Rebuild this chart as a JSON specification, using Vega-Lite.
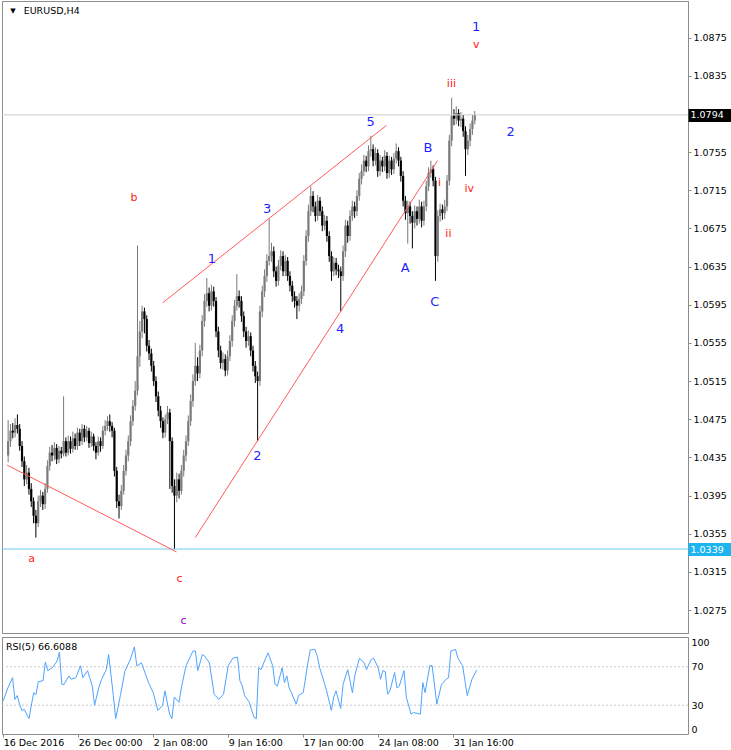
{
"$schema": "https://vega.github.io/schema/vega-lite/v6.json",
"padding": 0,
"background": "white",
"spacing": 2,
"config": {"font": "DejaVu Sans", "view": {"stroke": "#8c8c8c"}, "axis": {"labelFont": "DejaVu Sans", "labelFontSize": 9.5, "labelColor": "#000000"}},
"datasets": {
"candles": [
{"i":0,"o":1.0437,"h":1.0474,"l":1.0430,"c":1.0452},
{"i":1,"o":1.0452,"h":1.0470,"l":1.0446,"c":1.0463},
{"i":2,"o":1.0463,"h":1.0471,"l":1.0455,"c":1.0461},
{"i":3,"o":1.0461,"h":1.0476,"l":1.0456,"c":1.0469},
{"i":4,"o":1.0469,"h":1.0480,"l":1.0460,"c":1.0465},
{"i":5,"o":1.0465,"h":1.0470,"l":1.0442,"c":1.0447},
{"i":6,"o":1.0447,"h":1.0452,"l":1.0425,"c":1.0431},
{"i":7,"o":1.0431,"h":1.0436,"l":1.0405,"c":1.0412},
{"i":8,"o":1.0412,"h":1.0427,"l":1.0407,"c":1.0419},
{"i":9,"o":1.0419,"h":1.0424,"l":1.0396,"c":1.0402},
{"i":10,"o":1.0402,"h":1.0408,"l":1.0383,"c":1.0389},
{"i":11,"o":1.0389,"h":1.0393,"l":1.0366,"c":1.0374},
{"i":12,"o":1.0374,"h":1.0380,"l":1.0351,"c":1.0366},
{"i":13,"o":1.0366,"h":1.0395,"l":1.0362,"c":1.0389},
{"i":14,"o":1.0389,"h":1.0401,"l":1.0383,"c":1.0395},
{"i":15,"o":1.0395,"h":1.0399,"l":1.0380,"c":1.0386},
{"i":16,"o":1.0386,"h":1.0408,"l":1.0381,"c":1.0402},
{"i":17,"o":1.0402,"h":1.0432,"l":1.0398,"c":1.0426},
{"i":18,"o":1.0426,"h":1.0446,"l":1.0421,"c":1.0440},
{"i":19,"o":1.0440,"h":1.0448,"l":1.0431,"c":1.0437},
{"i":20,"o":1.0437,"h":1.0451,"l":1.0432,"c":1.0445},
{"i":21,"o":1.0445,"h":1.0449,"l":1.0428,"c":1.0433},
{"i":22,"o":1.0433,"h":1.0447,"l":1.0429,"c":1.0442},
{"i":23,"o":1.0442,"h":1.0446,"l":1.0434,"c":1.0439},
{"i":24,"o":1.0439,"h":1.0499,"l":1.0436,"c":1.0452},
{"i":25,"o":1.0452,"h":1.0456,"l":1.0436,"c":1.0440},
{"i":26,"o":1.0440,"h":1.0458,"l":1.0437,"c":1.0452},
{"i":27,"o":1.0452,"h":1.0457,"l":1.0439,"c":1.0444},
{"i":28,"o":1.0444,"h":1.0462,"l":1.0440,"c":1.0455},
{"i":29,"o":1.0455,"h":1.0460,"l":1.0443,"c":1.0447},
{"i":30,"o":1.0447,"h":1.0466,"l":1.0443,"c":1.0461},
{"i":31,"o":1.0461,"h":1.0465,"l":1.0447,"c":1.0452},
{"i":32,"o":1.0452,"h":1.0470,"l":1.0448,"c":1.0465},
{"i":33,"o":1.0465,"h":1.0469,"l":1.0451,"c":1.0456},
{"i":34,"o":1.0456,"h":1.0468,"l":1.0452,"c":1.0463},
{"i":35,"o":1.0463,"h":1.0466,"l":1.0445,"c":1.0450},
{"i":36,"o":1.0450,"h":1.0462,"l":1.0446,"c":1.0457},
{"i":37,"o":1.0457,"h":1.0460,"l":1.0442,"c":1.0447},
{"i":38,"o":1.0447,"h":1.0451,"l":1.0433,"c":1.0440},
{"i":39,"o":1.0440,"h":1.0457,"l":1.0437,"c":1.0452},
{"i":40,"o":1.0452,"h":1.0456,"l":1.0441,"c":1.0447},
{"i":41,"o":1.0447,"h":1.0468,"l":1.0444,"c":1.0463},
{"i":42,"o":1.0463,"h":1.0474,"l":1.0458,"c":1.0468},
{"i":43,"o":1.0468,"h":1.0478,"l":1.0463,"c":1.0473},
{"i":44,"o":1.0473,"h":1.0480,"l":1.0462,"c":1.0468},
{"i":45,"o":1.0468,"h":1.0472,"l":1.0456,"c":1.0463},
{"i":46,"o":1.0463,"h":1.0466,"l":1.0415,"c":1.0421},
{"i":47,"o":1.0421,"h":1.0425,"l":1.0382,"c":1.0389},
{"i":48,"o":1.0389,"h":1.0396,"l":1.0371,"c":1.0384},
{"i":49,"o":1.0384,"h":1.0406,"l":1.0380,"c":1.0400},
{"i":50,"o":1.0400,"h":1.0427,"l":1.0396,"c":1.0421},
{"i":51,"o":1.0421,"h":1.0443,"l":1.0416,"c":1.0437},
{"i":52,"o":1.0437,"h":1.0458,"l":1.0431,"c":1.0452},
{"i":53,"o":1.0452,"h":1.0479,"l":1.0447,"c":1.0473},
{"i":54,"o":1.0473,"h":1.0495,"l":1.0468,"c":1.0489},
{"i":55,"o":1.0489,"h":1.0515,"l":1.0484,"c":1.0505},
{"i":56,"o":1.0505,"h":1.0657,"l":1.0500,"c":1.0541},
{"i":57,"o":1.0541,"h":1.0578,"l":1.0530,"c":1.0567},
{"i":58,"o":1.0567,"h":1.0594,"l":1.0560,"c":1.0588},
{"i":59,"o":1.0588,"h":1.0592,"l":1.0565,"c":1.0580},
{"i":60,"o":1.0580,"h":1.0584,"l":1.0546,"c":1.0552},
{"i":61,"o":1.0552,"h":1.0558,"l":1.0537,"c":1.0544},
{"i":62,"o":1.0544,"h":1.0549,"l":1.0525,"c":1.0531},
{"i":63,"o":1.0531,"h":1.0536,"l":1.0510,"c":1.0515},
{"i":64,"o":1.0515,"h":1.0520,"l":1.0493,"c":1.0499},
{"i":65,"o":1.0499,"h":1.0504,"l":1.0478,"c":1.0484},
{"i":66,"o":1.0484,"h":1.0489,"l":1.0466,"c":1.0473},
{"i":67,"o":1.0473,"h":1.0477,"l":1.0455,"c":1.0461},
{"i":68,"o":1.0461,"h":1.0480,"l":1.0456,"c":1.0475},
{"i":69,"o":1.0475,"h":1.0489,"l":1.0470,"c":1.0482},
{"i":70,"o":1.0482,"h":1.0486,"l":1.0402,"c":1.0452},
{"i":71,"o":1.0452,"h":1.0456,"l":1.0398,"c":1.0405},
{"i":72,"o":1.0405,"h":1.0412,"l":1.0339,"c":1.0395},
{"i":73,"o":1.0395,"h":1.0419,"l":1.0388,"c":1.0412},
{"i":74,"o":1.0412,"h":1.0418,"l":1.0392,"c":1.0400},
{"i":75,"o":1.0400,"h":1.0427,"l":1.0396,"c":1.0421},
{"i":76,"o":1.0421,"h":1.0443,"l":1.0415,"c":1.0437},
{"i":77,"o":1.0437,"h":1.0458,"l":1.0431,"c":1.0452},
{"i":78,"o":1.0452,"h":1.0479,"l":1.0447,"c":1.0473},
{"i":79,"o":1.0473,"h":1.0501,"l":1.0468,"c":1.0494},
{"i":80,"o":1.0494,"h":1.0522,"l":1.0488,"c":1.0515},
{"i":81,"o":1.0515,"h":1.0555,"l":1.0510,"c":1.0531},
{"i":82,"o":1.0531,"h":1.0540,"l":1.0515,"c":1.0523},
{"i":83,"o":1.0523,"h":1.0553,"l":1.0518,"c":1.0547},
{"i":84,"o":1.0547,"h":1.0584,"l":1.0541,"c":1.0578},
{"i":85,"o":1.0578,"h":1.0606,"l":1.0572,"c":1.0599},
{"i":86,"o":1.0599,"h":1.0623,"l":1.0593,"c":1.0607},
{"i":87,"o":1.0607,"h":1.0613,"l":1.0588,"c":1.0594},
{"i":88,"o":1.0594,"h":1.0616,"l":1.0589,"c":1.0609},
{"i":89,"o":1.0609,"h":1.0614,"l":1.0593,"c":1.0599},
{"i":90,"o":1.0599,"h":1.0603,"l":1.0561,"c":1.0567},
{"i":91,"o":1.0567,"h":1.0572,"l":1.0540,"c":1.0547},
{"i":92,"o":1.0547,"h":1.0552,"l":1.0528,"c":1.0534},
{"i":93,"o":1.0534,"h":1.0545,"l":1.0527,"c":1.0538},
{"i":94,"o":1.0538,"h":1.0543,"l":1.0520,"c":1.0526},
{"i":95,"o":1.0526,"h":1.0547,"l":1.0521,"c":1.0541},
{"i":96,"o":1.0541,"h":1.0563,"l":1.0536,"c":1.0557},
{"i":97,"o":1.0557,"h":1.0584,"l":1.0551,"c":1.0578},
{"i":98,"o":1.0578,"h":1.0600,"l":1.0572,"c":1.0594},
{"i":99,"o":1.0594,"h":1.0627,"l":1.0589,"c":1.0604},
{"i":100,"o":1.0604,"h":1.0610,"l":1.0592,"c":1.0599},
{"i":101,"o":1.0599,"h":1.0604,"l":1.0577,"c":1.0583},
{"i":102,"o":1.0583,"h":1.0588,"l":1.0561,"c":1.0567},
{"i":103,"o":1.0567,"h":1.0572,"l":1.0550,"c":1.0557},
{"i":104,"o":1.0557,"h":1.0568,"l":1.0552,"c":1.0562},
{"i":105,"o":1.0562,"h":1.0566,"l":1.0541,"c":1.0547},
{"i":106,"o":1.0547,"h":1.0552,"l":1.0525,"c":1.0531},
{"i":107,"o":1.0531,"h":1.0536,"l":1.0513,"c":1.0520},
{"i":108,"o":1.0520,"h":1.0525,"l":1.0452,"c":1.0515},
{"i":109,"o":1.0515,"h":1.0594,"l":1.0510,"c":1.0588},
{"i":110,"o":1.0588,"h":1.0615,"l":1.0582,"c":1.0609},
{"i":111,"o":1.0609,"h":1.0632,"l":1.0603,"c":1.0625},
{"i":112,"o":1.0625,"h":1.0648,"l":1.0619,"c":1.0641},
{"i":113,"o":1.0641,"h":1.0685,"l":1.0636,"c":1.0646},
{"i":114,"o":1.0646,"h":1.0660,"l":1.0640,"c":1.0651},
{"i":115,"o":1.0651,"h":1.0656,"l":1.0624,"c":1.0630},
{"i":116,"o":1.0630,"h":1.0635,"l":1.0614,"c":1.0620},
{"i":117,"o":1.0620,"h":1.0642,"l":1.0615,"c":1.0636},
{"i":118,"o":1.0636,"h":1.0652,"l":1.0631,"c":1.0646},
{"i":119,"o":1.0646,"h":1.0651,"l":1.0625,"c":1.0630},
{"i":120,"o":1.0630,"h":1.0647,"l":1.0625,"c":1.0641},
{"i":121,"o":1.0641,"h":1.0645,"l":1.0620,"c":1.0625},
{"i":122,"o":1.0625,"h":1.0630,"l":1.0609,"c":1.0615},
{"i":123,"o":1.0615,"h":1.0620,"l":1.0598,"c":1.0604},
{"i":124,"o":1.0604,"h":1.0609,"l":1.0592,"c":1.0599},
{"i":125,"o":1.0599,"h":1.0604,"l":1.0580,"c":1.0594},
{"i":126,"o":1.0594,"h":1.0607,"l":1.0588,"c":1.0601},
{"i":127,"o":1.0601,"h":1.0615,"l":1.0596,"c":1.0609},
{"i":128,"o":1.0609,"h":1.0647,"l":1.0604,"c":1.0641},
{"i":129,"o":1.0641,"h":1.0673,"l":1.0636,"c":1.0667},
{"i":130,"o":1.0667,"h":1.0700,"l":1.0661,"c":1.0693},
{"i":131,"o":1.0693,"h":1.0719,"l":1.0688,"c":1.0709},
{"i":132,"o":1.0709,"h":1.0714,"l":1.0692,"c":1.0698},
{"i":133,"o":1.0698,"h":1.0703,"l":1.0682,"c":1.0688},
{"i":134,"o":1.0688,"h":1.0710,"l":1.0683,"c":1.0704},
{"i":135,"o":1.0704,"h":1.0708,"l":1.0688,"c":1.0693},
{"i":136,"o":1.0693,"h":1.0698,"l":1.0672,"c":1.0678},
{"i":137,"o":1.0678,"h":1.0689,"l":1.0673,"c":1.0683},
{"i":138,"o":1.0683,"h":1.0688,"l":1.0661,"c":1.0667},
{"i":139,"o":1.0667,"h":1.0672,"l":1.0640,"c":1.0646},
{"i":140,"o":1.0646,"h":1.0651,"l":1.0620,"c":1.0630},
{"i":141,"o":1.0630,"h":1.0645,"l":1.0625,"c":1.0639},
{"i":142,"o":1.0639,"h":1.0644,"l":1.0626,"c":1.0632},
{"i":143,"o":1.0632,"h":1.0637,"l":1.0623,"c":1.0630},
{"i":144,"o":1.0630,"h":1.0635,"l":1.0588,"c":1.0625},
{"i":145,"o":1.0625,"h":1.0657,"l":1.0620,"c":1.0651},
{"i":146,"o":1.0651,"h":1.0684,"l":1.0645,"c":1.0678},
{"i":147,"o":1.0678,"h":1.0683,"l":1.0660,"c":1.0667},
{"i":148,"o":1.0667,"h":1.0694,"l":1.0662,"c":1.0688},
{"i":149,"o":1.0688,"h":1.0704,"l":1.0683,"c":1.0698},
{"i":150,"o":1.0698,"h":1.0703,"l":1.0686,"c":1.0693},
{"i":151,"o":1.0693,"h":1.0715,"l":1.0688,"c":1.0709},
{"i":152,"o":1.0709,"h":1.0733,"l":1.0704,"c":1.0727},
{"i":153,"o":1.0727,"h":1.0742,"l":1.0721,"c":1.0735},
{"i":154,"o":1.0735,"h":1.0752,"l":1.0730,"c":1.0746},
{"i":155,"o":1.0746,"h":1.0751,"l":1.0734,"c":1.0740},
{"i":156,"o":1.0740,"h":1.0762,"l":1.0735,"c":1.0756},
{"i":157,"o":1.0756,"h":1.0772,"l":1.0750,"c":1.0758},
{"i":158,"o":1.0758,"h":1.0763,"l":1.0740,"c":1.0746},
{"i":159,"o":1.0746,"h":1.0760,"l":1.0741,"c":1.0754},
{"i":160,"o":1.0754,"h":1.0758,"l":1.0729,"c":1.0735},
{"i":161,"o":1.0735,"h":1.0752,"l":1.0730,"c":1.0746},
{"i":162,"o":1.0746,"h":1.0750,"l":1.0734,"c":1.0740},
{"i":163,"o":1.0740,"h":1.0757,"l":1.0735,"c":1.0751},
{"i":164,"o":1.0751,"h":1.0755,"l":1.0727,"c":1.0733},
{"i":165,"o":1.0733,"h":1.0751,"l":1.0728,"c":1.0746},
{"i":166,"o":1.0746,"h":1.0750,"l":1.0731,"c":1.0737},
{"i":167,"o":1.0737,"h":1.0754,"l":1.0732,"c":1.0748},
{"i":168,"o":1.0748,"h":1.0764,"l":1.0743,"c":1.0756},
{"i":169,"o":1.0756,"h":1.0760,"l":1.0740,"c":1.0746},
{"i":170,"o":1.0746,"h":1.0750,"l":1.0724,"c":1.0730},
{"i":171,"o":1.0730,"h":1.0735,"l":1.0698,"c":1.0704},
{"i":172,"o":1.0704,"h":1.0709,"l":1.0684,"c":1.0691},
{"i":173,"o":1.0691,"h":1.0704,"l":1.0659,"c":1.0698},
{"i":174,"o":1.0698,"h":1.0703,"l":1.0680,"c":1.0688},
{"i":175,"o":1.0688,"h":1.0693,"l":1.0654,"c":1.0681},
{"i":176,"o":1.0681,"h":1.0699,"l":1.0675,"c":1.0693},
{"i":177,"o":1.0693,"h":1.0698,"l":1.0678,"c":1.0685},
{"i":178,"o":1.0685,"h":1.0705,"l":1.0680,"c":1.0698},
{"i":179,"o":1.0698,"h":1.0703,"l":1.0676,"c":1.0683},
{"i":180,"o":1.0683,"h":1.0704,"l":1.0678,"c":1.0698},
{"i":181,"o":1.0698,"h":1.0725,"l":1.0693,"c":1.0719},
{"i":182,"o":1.0719,"h":1.0739,"l":1.0714,"c":1.0733},
{"i":183,"o":1.0733,"h":1.0746,"l":1.0728,"c":1.0737},
{"i":184,"o":1.0737,"h":1.0741,"l":1.0719,"c":1.0725},
{"i":185,"o":1.0725,"h":1.0729,"l":1.0620,"c":1.0646},
{"i":186,"o":1.0646,"h":1.0694,"l":1.0640,"c":1.0688},
{"i":187,"o":1.0688,"h":1.0701,"l":1.0682,"c":1.0695},
{"i":188,"o":1.0695,"h":1.0700,"l":1.0684,"c":1.0691},
{"i":189,"o":1.0691,"h":1.0705,"l":1.0685,"c":1.0698},
{"i":190,"o":1.0698,"h":1.0731,"l":1.0693,"c":1.0725},
{"i":191,"o":1.0725,"h":1.0773,"l":1.0720,"c":1.0767},
{"i":192,"o":1.0767,"h":1.0812,"l":1.0761,"c":1.0793},
{"i":193,"o":1.0793,"h":1.0800,"l":1.0783,"c":1.0790},
{"i":194,"o":1.0790,"h":1.0803,"l":1.0784,"c":1.0796},
{"i":195,"o":1.0796,"h":1.0800,"l":1.0782,"c":1.0788},
{"i":196,"o":1.0788,"h":1.0797,"l":1.0781,"c":1.0790},
{"i":197,"o":1.0790,"h":1.0794,"l":1.0771,"c":1.0777},
{"i":198,"o":1.0777,"h":1.0782,"l":1.0730,"c":1.0758},
{"i":199,"o":1.0758,"h":1.0773,"l":1.0752,"c":1.0767},
{"i":200,"o":1.0767,"h":1.0785,"l":1.0761,"c":1.0779},
{"i":201,"o":1.0779,"h":1.0794,"l":1.0773,"c":1.0788},
{"i":202,"o":1.0788,"h":1.0798,"l":1.0784,"c":1.0794}
],
"rsi": [
{"i":0,"r":34.5},{"i":2,"r":48},{"i":4,"r":58.6},{"i":5,"r":36},{"i":6,"r":40},{"i":7,"r":31},{"i":8,"r":24.5},{"i":9,"r":25.5},{"i":11,"r":16},{"i":13,"r":43},{"i":14,"r":41},{"i":15,"r":54.5},{"i":17,"r":55.5},{"i":18,"r":75},{"i":19,"r":66},{"i":21,"r":69},{"i":23,"r":76},{"i":24,"r":85},{"i":25,"r":51.7},{"i":26,"r":51.7},{"i":28,"r":60.5},{"i":29,"r":57},{"i":31,"r":58.6},{"i":33,"r":71},{"i":34,"r":58.6},{"i":36,"r":66},{"i":38,"r":50},{"i":39,"r":30},{"i":41,"r":50},{"i":42,"r":57},{"i":44,"r":67},{"i":45,"r":82.7},{"i":47,"r":40},{"i":48,"r":16},{"i":50,"r":40},{"i":52,"r":66},{"i":54,"r":76},{"i":56,"r":90.7},{"i":57,"r":71},{"i":59,"r":74},{"i":62,"r":53.5},{"i":64,"r":43},{"i":66,"r":24.5},{"i":68,"r":29.7},{"i":69,"r":45},{"i":71,"r":20.7},{"i":72,"r":16},{"i":73,"r":38.4},{"i":75,"r":33},{"i":76,"r":48},{"i":78,"r":71},{"i":81,"r":86.5},{"i":82,"r":86.5},{"i":83,"r":66},{"i":85,"r":82.7},{"i":86,"r":81},{"i":88,"r":74},{"i":90,"r":41.4},{"i":92,"r":36},{"i":94,"r":41.4},{"i":96,"r":71},{"i":98,"r":79},{"i":100,"r":80},{"i":101,"r":55.5},{"i":102,"r":50},{"i":103,"r":40},{"i":105,"r":33},{"i":106,"r":25},{"i":107,"r":17.3},{"i":108,"r":16},{"i":109,"r":69},{"i":110,"r":67},{"i":112,"r":79},{"i":113,"r":84.5},{"i":115,"r":71},{"i":116,"r":51.7},{"i":117,"r":50},{"i":119,"r":69},{"i":120,"r":53.5},{"i":121,"r":60.5},{"i":122,"r":48},{"i":123,"r":43},{"i":125,"r":31},{"i":126,"r":40},{"i":128,"r":43},{"i":130,"r":74},{"i":131,"r":87.5},{"i":133,"r":88},{"i":134,"r":81},{"i":135,"r":69},{"i":137,"r":53.5},{"i":138,"r":45},{"i":140,"r":24.5},{"i":141,"r":38.4},{"i":142,"r":45},{"i":144,"r":26.6},{"i":145,"r":51.7},{"i":147,"r":67},{"i":149,"r":43},{"i":150,"r":60.5},{"i":152,"r":79},{"i":154,"r":74},{"i":155,"r":67},{"i":157,"r":77.5},{"i":158,"r":79},{"i":160,"r":69},{"i":161,"r":57},{"i":162,"r":66},{"i":163,"r":65},{"i":164,"r":41.4},{"i":165,"r":45},{"i":167,"r":64},{"i":168,"r":48},{"i":169,"r":50},{"i":171,"r":66},{"i":172,"r":38.4},{"i":174,"r":20.7},{"i":175,"r":22.4},{"i":178,"r":20.7},{"i":179,"r":53.5},{"i":180,"r":43},{"i":182,"r":71},{"i":183,"r":71.3},{"i":185,"r":31},{"i":187,"r":51.7},{"i":189,"r":57},{"i":190,"r":58.6},{"i":191,"r":86.5},{"i":193,"r":88},{"i":194,"r":79},{"i":196,"r":71},{"i":198,"r":40},{"i":200,"r":57},{"i":202,"r":66.6}
],
"levels": [{"level":1.0794,"kind":"bid"},{"level":1.0339,"kind":"low"}],
"trend": [
{"seg":"ac","i":-0.5,"p":1.0427},{"seg":"ac","i":72.9,"p":1.0336},
{"seg":"upper","i":66.9,"p":1.0597},{"seg":"upper","i":163.8,"p":1.0783},
{"seg":"lower","i":81,"p":1.0351},{"seg":"lower","i":185.9,"p":1.0746}
],
"labels": [
{"t":"1","i":88.2,"p":1.0643,"deg":"major"},
{"t":"3","i":112.1,"p":1.0695,"deg":"major"},
{"t":"5","i":156.9,"p":1.0786,"deg":"major"},
{"t":"2","i":107.9,"p":1.0437,"deg":"major"},
{"t":"4","i":143.7,"p":1.0570,"deg":"major"},
{"t":"A","i":171.9,"p":1.0634,"deg":"major"},
{"t":"B","i":181.7,"p":1.0759,"deg":"major"},
{"t":"C","i":184.7,"p":1.0598,"deg":"major"},
{"t":"1","i":202.6,"p":1.0886,"deg":"major"},
{"t":"2","i":217.5,"p":1.0776,"deg":"major"},
{"t":"b","i":54.5,"p":1.0707,"deg":"minor"},
{"t":"a","i":10.2,"p":1.0329,"deg":"minor"},
{"t":"c","i":74.2,"p":1.0308,"deg":"minor"},
{"t":"iii","i":191.9,"p":1.0826,"deg":"minor"},
{"t":"i","i":186.8,"p":1.0723,"deg":"minor"},
{"t":"ii","i":190.6,"p":1.0669,"deg":"minor"},
{"t":"iv","i":199.6,"p":1.0716,"deg":"minor"},
{"t":"v","i":202.6,"p":1.0867,"deg":"minor"},
{"t":"c","i":75.9,"p":1.0264,"deg":"alt"}
],
"caption": [{"t":"EURUSD,H4","i":6.7,"p":1.0903}],
"marker": [{"t":"▼","i":2.1,"p":1.0903}],
"rsicap": [{"t":"RSI(5) 66.6088","i":1.2,"r":90.7}],
"rsilevels": [{"lv":70},{"lv":30}]
},
"vconcat": [
{
"width": 686, "height": 632,
"resolve": {"axis": {"y": "independent"}},
"layer": [
{"data": {"name": "candles"}, "mark": {"type": "rule", "strokeWidth": 1},
 "encoding": {
  "x": {"field": "i", "type": "quantitative", "scale": {"domain": [-0.5, 292.16], "nice": false, "zero": false}, "axis": null},
  "y": {"field": "l", "type": "quantitative", "scale": {"domain": [1.0251, 1.09133], "nice": false, "zero": false},
        "axis": {"orient": "right", "title": null, "grid": false, "values": [1.0275,1.0315,1.0355,1.0395,1.0435,1.0475,1.0515,1.0555,1.0595,1.0635,1.0675,1.0715,1.0755,1.0835,1.0875], "format": ".4f", "tickSize": 3, "tickColor": "#8c8c8c", "domainColor": "#8c8c8c", "labelPadding": 2, "labelFlush": false, "labelOverlap": false}},
  "y2": {"field": "h"},
  "color": {"condition": {"test": "datum.c >= datum.o", "value": "#7a7a7a"}, "value": "#000000"}
 }},
{"data": {"name": "candles"}, "mark": {"type": "bar", "size": 2.2},
 "encoding": {
  "x": {"field": "i", "type": "quantitative", "scale": {"domain": [-0.5, 292.16], "nice": false, "zero": false}, "axis": null},
  "y": {"field": "o", "type": "quantitative", "axis": null},
  "y2": {"field": "c"},
  "color": {"condition": {"test": "datum.c >= datum.o", "value": "#7a7a7a"}, "value": "#000000"}
 }},
{"data": {"name": "levels"}, "mark": {"type": "rule", "strokeWidth": 1},
 "encoding": {
  "y": {"field": "level", "type": "quantitative",
        "axis": {"orient": "right", "title": null, "grid": false, "domain": false, "values": [1.0794, 1.0339], "format": ".4f", "tickSize": 43, "tickWidth": 13, "tickCap": "butt",
                 "tickColor": {"condition": {"test": "datum.value > 1.05", "value": "#000000"}, "value": "#1cb5f0"},
                 "labelColor": "#ffffff", "labelPadding": -41, "labelFlush": false, "labelOverlap": false}},
  "color": {"field": "kind", "type": "nominal", "scale": {"domain": ["bid", "low"], "range": ["#cfcfcf", "#6cc9f0"]}, "legend": null}
 }},
{"data": {"name": "trend"}, "mark": {"type": "line", "strokeWidth": 1, "color": "#ff5a5a"},
 "encoding": {
  "x": {"field": "i", "type": "quantitative", "axis": null},
  "y": {"field": "p", "type": "quantitative", "axis": null},
  "detail": {"field": "seg"}
 }},
{"data": {"name": "labels"}, "transform": [{"filter": "datum.deg == 'major'"}],
 "mark": {"type": "text", "fontSize": 13, "color": "#1f1fff", "align": "center", "baseline": "middle"},
 "encoding": {
  "x": {"field": "i", "type": "quantitative", "axis": null},
  "y": {"field": "p", "type": "quantitative", "axis": null},
  "text": {"field": "t"}
 }},
{"data": {"name": "labels"}, "transform": [{"filter": "datum.deg == 'minor'"}],
 "mark": {"type": "text", "fontSize": 11, "color": "#ff2020", "align": "center", "baseline": "middle"},
 "encoding": {
  "x": {"field": "i", "type": "quantitative", "axis": null},
  "y": {"field": "p", "type": "quantitative", "axis": null},
  "text": {"field": "t"}
 }},
{"data": {"name": "labels"}, "transform": [{"filter": "datum.deg == 'alt'"}],
 "mark": {"type": "text", "fontSize": 11, "color": "#9a00cc", "align": "center", "baseline": "middle"},
 "encoding": {
  "x": {"field": "i", "type": "quantitative", "axis": null},
  "y": {"field": "p", "type": "quantitative", "axis": null},
  "text": {"field": "t"}
 }},
{"data": {"name": "caption"},
 "mark": {"type": "text", "fontSize": 9.5, "color": "#000000", "align": "left", "baseline": "middle"},
 "encoding": {
  "x": {"field": "i", "type": "quantitative", "axis": null},
  "y": {"field": "p", "type": "quantitative", "axis": null},
  "text": {"field": "t"}
 }},
{"data": {"name": "marker"},
 "mark": {"type": "text", "fontSize": 7, "color": "#000000", "align": "center", "baseline": "middle"},
 "encoding": {
  "x": {"field": "i", "type": "quantitative", "axis": null},
  "y": {"field": "p", "type": "quantitative", "axis": null},
  "text": {"field": "t"}
 }}
]
},
{
"width": 686, "height": 97,
"resolve": {"axis": {"x": "independent", "y": "independent"}},
"layer": [
{"data": {"name": "rsilevels"}, "mark": {"type": "rule", "strokeWidth": 1, "strokeDash": [2, 2], "color": "#c8c8c8"},
 "encoding": {
  "y": {"field": "lv", "type": "quantitative", "scale": {"domain": [0, 101], "nice": false, "zero": false}, "axis": null}
 }},
{"data": {"name": "rsi"}, "mark": {"type": "line", "strokeWidth": 1, "color": "#4da3ff"},
 "encoding": {
  "x": {"field": "i", "type": "quantitative", "scale": {"domain": [-0.5, 292.16], "nice": false, "zero": false},
        "axis": {"orient": "bottom", "title": null, "grid": false, "domain": false, "values": [0, 32, 64, 96, 128, 160, 192],
                 "labelExpr": "['16 Dec 2016','26 Dec 00:00','2 Jan 08:00','9 Jan 16:00','17 Jan 00:00','24 Jan 08:00','31 Jan 16:00'][round(datum.value/32)]",
                 "labelAlign": "left", "labelBaseline": "top", "labelPadding": 0, "tickSize": 3, "tickColor": "#8c8c8c", "labelFlush": false, "labelOverlap": false, "labelBound": false}},
  "y": {"field": "r", "type": "quantitative", "scale": {"domain": [0, 101], "nice": false, "zero": false},
        "axis": {"orient": "right", "title": null, "grid": false, "domain": false, "ticks": false, "values": [0, 30, 70, 100], "labelPadding": 3, "labelFlush": 6, "labelOverlap": false}}
 }},
{"data": {"name": "rsicap"},
 "mark": {"type": "text", "fontSize": 9.5, "color": "#000000", "align": "left", "baseline": "middle"},
 "encoding": {
  "x": {"field": "i", "type": "quantitative", "axis": null},
  "y": {"field": "r", "type": "quantitative", "axis": null},
  "text": {"field": "t"}
 }}
]
}
]
}
